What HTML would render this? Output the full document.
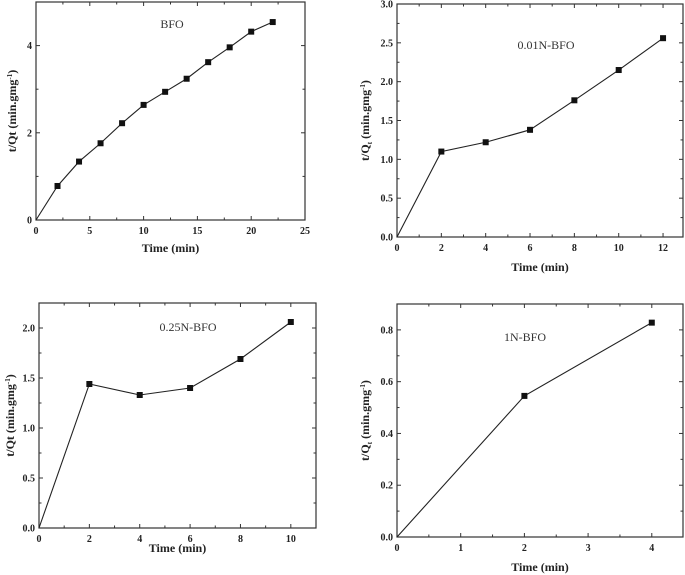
<!DOCTYPE html>
<html><head><meta charset="utf-8"><style>
html,body{margin:0;padding:0;background:#fff;}
svg{display:block;font-family:"Liberation Serif",serif;}
</style></head><body>
<svg id="c" width="685" height="575" viewBox="0 0 685 575" xmlns="http://www.w3.org/2000/svg"></svg>
<script>
const p1X=[0,2,4,6,8,10,12,14,16,18,20,22];
const p1Y=[0,0.78,1.34,1.76,2.22,2.64,2.94,3.24,3.62,3.96,4.32,4.54];
const p1XTicks=[0,5,10,15,20,25];
const p1YTicks=[0,2,4];
const p2X=[0,2,4,6,8,10,12];
const p2Y=[0,1.10,1.22,1.38,1.76,2.15,2.56];
const p2XTicks=[0,2,4,6,8,10,12];
const p2YTicks=["0.0","0.5","1.0","1.5","2.0","2.5","3.0"];
const p3X=[0,2,4,6,8,10];
const p3Y=[0,1.44,1.33,1.40,1.69,2.06];
const p3XTicks=[0,2,4,6,8,10];
const p3YTicks=["0.0","0.5","1.0","1.5","2.0"];
const p4X=[0,2,4];
const p4Y=[0,0.545,0.828];
const p4XTicks=[0,1,2,3,4];
const p4YTicks=["0.0","0.2","0.4","0.6","0.8"];

const NS="http://www.w3.org/2000/svg";
const svg=document.getElementById('c');
function mk(tag,attrs,parent,text){const e=document.createElementNS(NS,tag);for(const k in attrs)e.setAttribute(k,attrs[k]);if(text!==undefined)e.textContent=text;(parent||svg).appendChild(e);return e;}

function panel(id,box,xd,yd,xs,ys,xt,yt,xMinor,yMinor,label,lpos,sub,titleY,ytitleX){
  const g=mk('g',{});
  
  
  const [L,R,T,B]=box;
  const X=v=>L+(v-xd[0])/(xd[1]-xd[0])*(R-L);
  const Y=v=>B-(v-yd[0])/(yd[1]-yd[0])*(B-T);
  const fr=mk('rect',{x:L,y:T,width:R-L,height:B-T,fill:'none',stroke:'#333','stroke-width':1.2},g);
  
  
  const tk=mk('g',{stroke:'#333','stroke-width':1},g);
  
  
  for(let v=xd[0];v<=xd[1]+1e-9;v+=xMinor){
    const major=xt.some(t=>Math.abs(+t-v)<1e-6);const l=major?4:2.5;
    mk('line',{x1:X(v),x2:X(v),y1:B,y2:B-l},tk);mk('line',{x1:X(v),x2:X(v),y1:T,y2:T+l},tk);
  }
  for(let v=yd[0];v<=yd[1]+1e-9;v+=yMinor){
    const major=yt.some(t=>Math.abs(+t-v)<1e-6);const l=major?4:2.5;
    mk('line',{y1:Y(v),y2:Y(v),x1:L,x2:L+l},tk);mk('line',{y1:Y(v),y2:Y(v),x1:R,x2:R-l},tk);
  }
  xt.forEach(t=>{const e=mk('text',{x:X(+t),y:B+14,'text-anchor':'middle','font-size':10,'font-weight':'bold',fill:'#222'},g,String(t));
    });
  yt.forEach(t=>{const e=mk('text',{x:L-4,y:Y(+t)+3.5,'text-anchor':'end','font-size':10,'font-weight':'bold',fill:'#222'},g,String(t));
    });
  const xtl=mk('text',{x:(L+R)/2,y:titleY,'text-anchor':'middle','font-size':12,'font-weight':'bold',fill:'#222'},g,'Time (min)');
  
  const cy=(T+B)/2;
  const ytl=mk('text',{x:ytitleX,y:cy,'text-anchor':'middle','font-size':12,'font-weight':'bold',fill:'#222',transform:`rotate(-90 ${ytitleX} ${cy})`},g);
  
  if(sub){mk('tspan',{},ytl,'t/Q');mk('tspan',{'font-size':7,dy:3},ytl,'t');mk('tspan',{dy:-3},ytl,' (min.gmg');}
  else{mk('tspan',{},ytl,'t/Qt (min.gmg');}
  mk('tspan',{'font-size':7,dy:-4},ytl,'-1');mk('tspan',{dy:4},ytl,')');
  const lb=mk('text',{x:lpos[0],y:lpos[1],'text-anchor':'middle','font-size':12,fill:'#333'},g,label);
  
  const pts=xs.map((x,i)=>X(x)+','+Y(ys[i])).join(' ');
  const pl=mk('polyline',{points:pts,fill:'none',stroke:'#222','stroke-width':1.1},g);
  
  xs.forEach((x,i)=>{if(i===0)return;const m=mk('rect',{x:X(x)-3,y:Y(ys[i])-3,width:6,height:6,fill:'#111'},g);
    });
}
panel('panel-bfo',[36,305,2,220],[0,25],[0,5],p1X,p1Y,p1XTicks,p1YTicks,2.5,1,'BFO',[172,28],false,252,16);
panel('panel-001n-bfo',[397,683,4,237],[0,12.9],[0,3],p2X,p2Y,p2XTicks,p2YTicks,1,0.25,'0.01N-BFO',[546,49],true,271,369);
panel('panel-025n-bfo',[39,316,303,528],[0,11],[0,2.25],p3X,p3Y,p3XTicks,p3YTicks,1,0.25,'0.25N-BFO',[188,331],false,552,14);
panel('panel-1n-bfo',[397,683,304,537],[0,4.49],[0,0.9],p4X,p4Y,p4XTicks,p4YTicks,0.5,0.1,'1N-BFO',[525,341],true,571,369);
</script>
</body></html>
